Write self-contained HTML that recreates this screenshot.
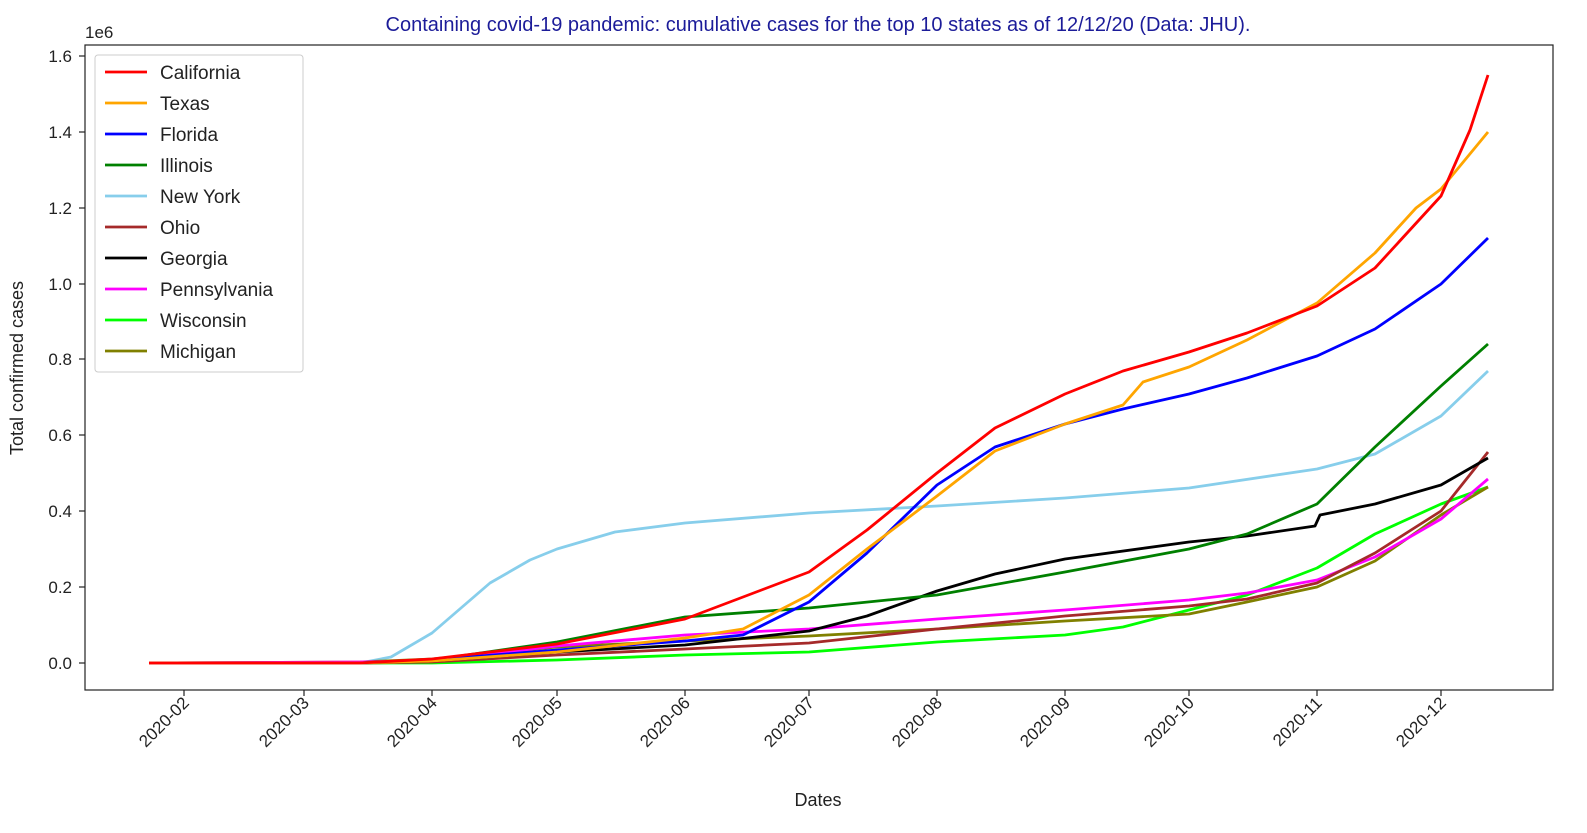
<!DOCTYPE html>
<html><head><meta charset="utf-8"><style>
body{margin:0;background:#fff}
svg{display:block;font-family:"Liberation Sans","DejaVu Sans",sans-serif}
</style></head><body>
<svg width="1587" height="833" viewBox="0 0 1587 833" xmlns="http://www.w3.org/2000/svg">
<rect width="1587" height="833" fill="#fff"/>
<text x="818" y="31" font-size="20" fill="#1c1c99" text-anchor="middle">Containing covid-19 pandemic: cumulative cases for the top 10 states as of 12/12/20 (Data: JHU).</text>
<text x="85" y="38" font-size="17" fill="#222">1e6</text>
<!-- y ticks -->
<g font-size="17" fill="#222" text-anchor="end" stroke="none">
<text x="72" y="669">0.0</text><text x="72" y="593">0.2</text><text x="72" y="517">0.4</text><text x="72" y="441">0.6</text><text x="72" y="365">0.8</text><text x="72" y="290">1.0</text><text x="72" y="214">1.2</text><text x="72" y="138">1.4</text><text x="72" y="62">1.6</text>
</g>
<g stroke="#222" stroke-width="1.2">
<line x1="79" x2="85" y1="663" y2="663"/><line x1="79" x2="85" y1="587" y2="587"/><line x1="79" x2="85" y1="511" y2="511"/><line x1="79" x2="85" y1="435" y2="435"/><line x1="79" x2="85" y1="359" y2="359"/><line x1="79" x2="85" y1="284" y2="284"/><line x1="79" x2="85" y1="208" y2="208"/><line x1="79" x2="85" y1="132" y2="132"/><line x1="79" x2="85" y1="56" y2="56"/>
<line x1="184" x2="184" y1="690" y2="696"/><line x1="304" x2="304" y1="690" y2="696"/><line x1="432" x2="432" y1="690" y2="696"/><line x1="557" x2="557" y1="690" y2="696"/><line x1="685" x2="685" y1="690" y2="696"/><line x1="809" x2="809" y1="690" y2="696"/><line x1="937" x2="937" y1="690" y2="696"/><line x1="1065" x2="1065" y1="690" y2="696"/><line x1="1189" x2="1189" y1="690" y2="696"/><line x1="1317" x2="1317" y1="690" y2="696"/><line x1="1441" x2="1441" y1="690" y2="696"/>
</g>
<g font-size="17" fill="#222" text-anchor="end">
<text transform="translate(190,704) rotate(-45)">2020-02</text>
<text transform="translate(310,704) rotate(-45)">2020-03</text>
<text transform="translate(438,704) rotate(-45)">2020-04</text>
<text transform="translate(563,704) rotate(-45)">2020-05</text>
<text transform="translate(691,704) rotate(-45)">2020-06</text>
<text transform="translate(815,704) rotate(-45)">2020-07</text>
<text transform="translate(943,704) rotate(-45)">2020-08</text>
<text transform="translate(1071,704) rotate(-45)">2020-09</text>
<text transform="translate(1195,704) rotate(-45)">2020-10</text>
<text transform="translate(1323,704) rotate(-45)">2020-11</text>
<text transform="translate(1447,704) rotate(-45)">2020-12</text>
</g>
<text x="818" y="806" font-size="18" fill="#222" text-anchor="middle">Dates</text>
<text transform="translate(23,368) rotate(-90)" font-size="18" fill="#222" text-anchor="middle">Total confirmed cases</text>
<g fill="none" stroke-width="2.8" stroke-linejoin="round">
<polyline stroke="#87ceeb" points="149,663 360,663 391,657 432,633 490,583 530,560 557,549 615,532 685,523 809,513 937,506 1065,498 1189,488 1317,469 1375,454 1441,416 1488,371"/>
<polyline stroke="#00ff00" points="149,663 432,663 557,660 685,655 809,652 937,642 1065,635 1123,627 1189,610 1247,595 1317,568 1375,534 1441,504 1488,487"/>
<polyline stroke="#808000" points="149,663 360,662 432,659 557,647 685,641 809,636 937,629 1065,621 1189,614 1247,602 1317,587 1375,561 1441,515 1488,487"/>
<polyline stroke="#ff00ff" points="149,663 360,662 432,661 557,646 685,635 809,629 937,619 1065,610 1189,600 1247,593 1317,580 1375,557 1441,519 1488,479"/>
<polyline stroke="#a52a2a" points="149,663 360,663 432,662 557,655 685,649 809,643 937,629 1065,616 1189,606 1247,599 1317,583 1375,553 1441,511 1488,452"/>
<polyline stroke="#000" points="149,663 360,663 432,661 557,652 685,645 809,631 867,616 937,591 995,574 1065,559 1189,542 1247,536 1315,526 1320,515 1375,504 1441,485 1488,458"/>
<polyline stroke="#008000" points="149,663 360,663 432,660 557,642 685,617 809,608 937,595 1065,572 1189,549 1247,534 1317,504 1375,447 1441,386 1488,344"/>
<polyline stroke="#0000ff" points="149,663 360,663 432,660 557,650 685,641 743,635 809,602 867,553 937,485 995,447 1065,424 1123,409 1189,394 1247,378 1317,356 1375,329 1441,284 1488,238"/>
<polyline stroke="#ffa500" points="149,663 360,663 432,661 557,652 685,638 743,629 809,595 867,549 937,496 995,451 1065,424 1123,405 1143,382 1189,367 1247,340 1317,303 1375,253 1416,208 1441,189 1488,132"/>
<polyline stroke="#ff0000" points="149,663 360,663 432,659 557,644 685,619 809,572 867,530 937,473 995,428 1065,394 1123,371 1189,352 1247,333 1317,306 1375,268 1441,196 1470,130 1488,75"/>
</g>
<rect x="85" y="45" width="1468" height="645" fill="none" stroke="#222" stroke-width="1.2"/>
<rect x="95" y="55" width="208" height="317" rx="3" fill="#fff" fill-opacity="0.85" stroke="#ccc"/>
<g stroke-width="2.8">
<line x1="105" x2="147" y1="72" y2="72" stroke="#ff0000"/>
<line x1="105" x2="147" y1="103" y2="103" stroke="#ffa500"/>
<line x1="105" x2="147" y1="134" y2="134" stroke="#0000ff"/>
<line x1="105" x2="147" y1="165" y2="165" stroke="#008000"/>
<line x1="105" x2="147" y1="196" y2="196" stroke="#87ceeb"/>
<line x1="105" x2="147" y1="227" y2="227" stroke="#a52a2a"/>
<line x1="105" x2="147" y1="258" y2="258" stroke="#000"/>
<line x1="105" x2="147" y1="289" y2="289" stroke="#ff00ff"/>
<line x1="105" x2="147" y1="320" y2="320" stroke="#00ff00"/>
<line x1="105" x2="147" y1="351" y2="351" stroke="#808000"/>
</g>
<g font-size="19" fill="#222">
<text x="160" y="79">California</text><text x="160" y="110">Texas</text><text x="160" y="141">Florida</text><text x="160" y="172">Illinois</text><text x="160" y="203">New York</text><text x="160" y="234">Ohio</text><text x="160" y="265">Georgia</text><text x="160" y="296">Pennsylvania</text><text x="160" y="327">Wisconsin</text><text x="160" y="358">Michigan</text>
</g>
</svg>
</body></html>
